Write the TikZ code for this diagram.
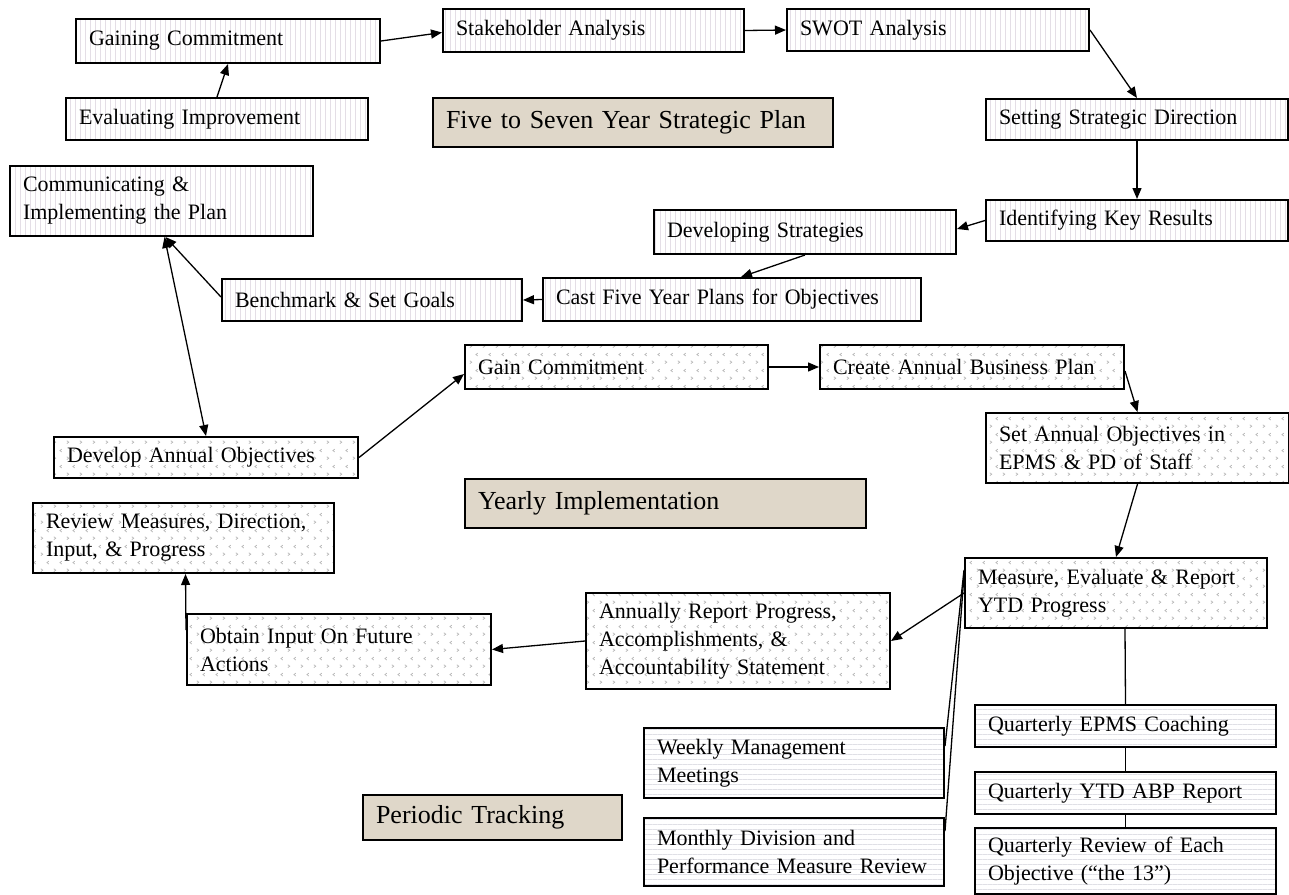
\documentclass[tikz,border=0pt]{standalone}
\usepackage{fontspec}
\setmainfont{Liberation Serif}
\usetikzlibrary{arrows.meta,patterns.meta,calc}

\definecolor{vstripe}{RGB}{228,222,230}
\definecolor{hstripe}{RGB}{224,224,230}
\definecolor{chevc}{RGB}{180,180,180}
\definecolor{tanfill}{RGB}{223,215,201}

\tikzdeclarepattern{
  name=chev, type=uncolored,
  bounding box={(0pt,0pt) and (13pt,16pt)},
  tile size={(13pt,16pt)},
  code={
    \draw[line width=0.7pt] (2pt,2.5pt) -- (4pt,4pt) -- (2pt,5.5pt);
    \draw[line width=0.7pt] (10.5pt,10.5pt) -- (8.5pt,12pt) -- (10.5pt,13.5pt);
  }
}

\begin{document}
\begin{tikzpicture}[x=1pt,y=-1pt,
  boxbase/.style={draw=black, line width=2pt, anchor=north west, inner xsep=13pt, inner ysep=2pt, align=left, font=\fontsize{22}{28}\selectfont},
  wh/.code 2 args={\pgfmathsetmacro\bxtw{#1-26}\pgfkeysalso{/tikz/minimum width=#1pt,/tikz/minimum height=#2pt,/tikz/text width=\bxtw pt}},
  vbox/.style={boxbase, preaction={fill=white}, preaction={pattern={Lines[angle=90,distance=5pt,line width=1pt]}, pattern color=vstripe}},
  hbox/.style={boxbase, preaction={fill=white}, preaction={pattern={Lines[angle=0,distance=5pt,line width=1pt]}, pattern color=hstripe}},
  dbox/.style={boxbase, preaction={fill=white}, preaction={pattern=chev, pattern color=chevc}},
  labelbox/.style={boxbase, fill=tanfill, font=\fontsize{26}{30}\selectfont},
  conn/.style={line width=1.3pt},
  arr/.style={conn, -{Triangle[length=11pt,width=9pt]}},
  darr/.style={conn, {Triangle[length=11pt,width=9pt]}-{Triangle[length=11pt,width=9pt]}}
]
\fill[white] (0,0) rectangle (1289,894);
\useasboundingbox (0,0) rectangle (1289,894);

% Five to seven year strategic plan
\node[vbox, wh={304}{44}] (gain) at (75,18) {Gaining Commitment};
\node[vbox, wh={302}{42}] (evalimp) at (65,97) {Evaluating Improvement};
\node[vbox, wh={301}{43}] (stake) at (442,8) {Stakeholder Analysis};
\node[vbox, wh={302}{42}] (swot) at (786,8) {SWOT Analysis};
\node[labelbox, wh={400}{49}] (lab1) at (432,97) {Five to Seven Year Strategic Plan};
\node[vbox, wh={302}{41}] (setdir) at (985,98) {Setting Strategic Direction};
\node[vbox, wh={302}{41}] (keyres) at (985,199) {Identifying Key Results};
\node[vbox, wh={302}{44}] (devstrat) at (653,209) {Developing Strategies};
\node[vbox, wh={378}{43}] (cast) at (542,277) {Cast Five Year Plans for Objectives};
\node[vbox, wh={300}{42}] (bench) at (221,278) {Benchmark \& Set Goals};
\node[vbox, wh={303}{70}] (comm) at (9,165) {Communicating \&\\Implementing the Plan};

% Yearly implementation
\node[dbox, wh={304}{41}] (devobj) at (53,436) {Develop Annual Objectives};
\node[dbox, wh={303}{44}] (gaincom) at (464,344) {Gain Commitment};
\node[dbox, wh={304}{44}] (create) at (819,344) {Create Annual Business Plan};
\node[dbox, wh={303}{70}] (setobj) at (985,412) {Set Annual Objectives in\\EPMS \& PD of Staff};
\node[labelbox, wh={401}{49}] (lab2) at (464,478) {Yearly Implementation};
\node[dbox, wh={301}{70}] (review) at (32,502) {Review Measures, Direction,\\Input, \& Progress};
\node[dbox, wh={302}{70}] (measure) at (964,557) {Measure, Evaluate \& Report\\YTD Progress};
\node[dbox, wh={304}{71}] (obtain) at (186,613) {Obtain Input On Future\\Actions};
\node[dbox, wh={304}{96}] (annual) at (585,592) {Annually Report Progress,\\Accomplishments, \&\\Accountability Statement};

% Periodic tracking
\node[hbox, wh={300}{70}] (weekly) at (643,727) {Weekly Management\\Meetings};
\node[hbox, wh={300}{68}] (monthly) at (643,817) {Monthly Division and\\Performance Measure Review};
\node[labelbox, wh={259}{45}] (lab3) at (362,794) {Periodic Tracking};
\node[hbox, wh={301}{42}] (qepms) at (974,704) {Quarterly EPMS Coaching};
\node[hbox, wh={301}{42}] (qytd) at (974,771) {Quarterly YTD ABP Report};
\node[hbox, wh={301}{66}] (qrev) at (974,827) {Quarterly Review of Each\\Objective (“the 13”)};

% connectors
\draw[arr] (gain.east) -- ([yshift=-2pt]stake.west);
\draw[arr] (evalimp.north) -- (gain.south);
\draw[arr] (stake.east) -- (swot.west);
\draw[arr] (swot.east) -- (setdir.north);
\draw[arr] (setdir.south) -- (keyres.north);
\draw[arr] (keyres.west) -- ([yshift=3pt]devstrat.east);
\draw[arr] (devstrat.south) -- ([xshift=9pt]cast.north);
\draw[arr] (cast.west) -- (bench.east);
\draw[arr] ([yshift=3pt]bench.west) -- ([xshift=4pt]comm.south);
\draw[darr] ([xshift=3pt]comm.south) -- (devobj.north);
\draw[arr] (devobj.east) -- ([yshift=-7pt]gaincom.west);
\draw[arr] (gaincom.east) -- (create.west);
\draw[arr] ([yshift=-4pt]create.east) -- (setobj.north);
\draw[arr] (setobj.south) -- (measure.north);
\draw[arr] (measure.west) -- (annual.east);
\draw[arr] (annual.west) -- (obtain.east);
\draw[arr] ([yshift=-17pt]obtain.north west) -- ([xshift=2pt]review.south);
\draw[conn] ([yshift=-13pt]measure.north west) -- ([yshift=17pt]weekly.east);
\draw[conn] ([yshift=-18pt]measure.north west) -- ([yshift=21pt]monthly.east);
\draw[conn] ([xshift=9pt]measure.south) -- (qepms.north);
\draw[conn] (qepms.south) -- (qytd.north);
\draw[conn] (qytd.south) -- (qrev.north);
\end{tikzpicture}
\end{document}
